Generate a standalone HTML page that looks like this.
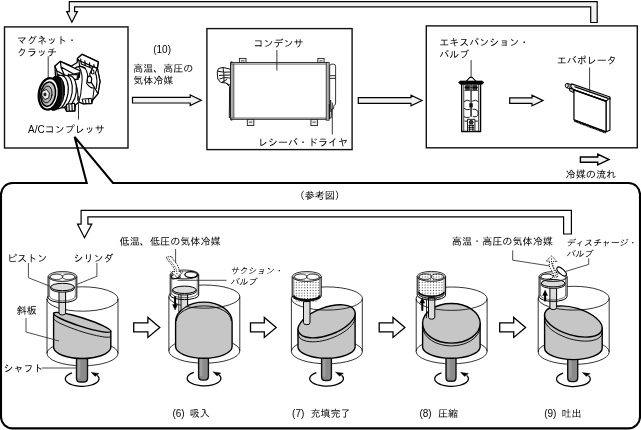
<!DOCTYPE html>
<html lang="ja"><head><meta charset="utf-8"><title>A/C refrigerant cycle</title>
<style>html,body{margin:0;padding:0;background:#fff}svg{display:block;filter:grayscale(1)}text{font-family:"Liberation Sans", "IPAGothic", "Noto Sans CJK JP", sans-serif}</style>
</head><body>
<svg width="641" height="430" viewBox="0 0 641 430">
<defs><pattern id="dots" x="0.9" y="0.2" width="2.8" height="2.7" patternUnits="userSpaceOnUse"><rect x="0.9" y="0.9" width="1" height="1" fill="#3a3a3a"/></pattern></defs>
<rect x="0" y="0" width="641" height="430" fill="#fff"/>
<polygon points="590.7,22.5 597.2,22.5 597.2,1.6 69.3,1.6 69.3,11.6 66.7,11.6 71.9,22.2 77.4,11.6 74.6,11.6 74.6,6.8 590.7,6.8" fill="#f0f2f2" stroke="#000" stroke-width="1.2" stroke-linejoin="miter"/>
<path d="M86.7,183.0 L74.6,136.8 L113,183.0 L628.5,183.0 A11.5,11.5 0 0 1 640.0,194.5 L640.0,416.9 A11.5,11.5 0 0 1 628.5,428.4 L12.5,428.4 A11.5,11.5 0 0 1 1.0,416.9 L1.0,194.5 A11.5,11.5 0 0 1 12.5,183.0 Z" fill="#fff" stroke="#000" stroke-width="2.1" stroke-linejoin="miter"/>
<rect x="4.5" y="26.9" width="123.5" height="121.1" fill="none" stroke="#111" stroke-width="1.4"/>
<rect x="206.9" y="28.6" width="145.2" height="121.0" fill="none" stroke="#111" stroke-width="1.4"/>
<rect x="426.3" y="25.9" width="211.0" height="121.9" fill="none" stroke="#111" stroke-width="1.4"/>
<polygon points="132.5,97.4 190.2,97.4 190.2,94.9 201.2,100.2 190.2,105.5 190.2,103.0 132.5,103.0" fill="#f0f2f2" stroke="#000" stroke-width="1.2" stroke-linejoin="miter"/>
<polygon points="358.3,97.7 411.0,97.7 411.0,95.2 422.0,100.5 411.0,105.8 411.0,103.3 358.3,103.3" fill="#f0f2f2" stroke="#000" stroke-width="1.2" stroke-linejoin="miter"/>
<polygon points="509.7,97.8 532.0,97.8 532.0,95.3 543.0,100.6 532.0,105.9 532.0,103.4 509.7,103.4" fill="#f0f2f2" stroke="#000" stroke-width="1.2" stroke-linejoin="miter"/>
<polygon points="580.4,157.0 597.7,157.0 597.7,154.2 609.0,159.6 597.7,165.0 597.7,162.2 580.4,162.2" fill="#f0f2f2" stroke="#000" stroke-width="1.4" stroke-linejoin="miter"/>
<polygon points="563.6,234.0 571.4,234.0 571.4,210.3 81.1,210.3 81.1,224.1 77.5,224.1 84.5,237.7 91.8,224.1 87.9,224.1 87.9,216.8 563.6,216.8" fill="#fff" stroke="#000" stroke-width="1.2" stroke-linejoin="miter"/>
<g id="compressor" transform="translate(35,52) scale(0.1464)" stroke="#000" fill="#fff" stroke-width="8" stroke-linejoin="round" stroke-linecap="round">
<path d="M136,98 L172,64 L250,96 L288,72 L290,45 L322,16 L432,68 L426,112 L444,200 L430,285 L394,328 L388,352 L330,354 L300,342 L276,362 L272,404 L215,404 L200,374 L150,340 L140,160 Z" fill="#fff" stroke-width="9"/>
<path d="M262,118 Q300,84 340,108 Q372,150 352,214 M300,100 Q332,150 318,230 Q316,290 300,340 M352,214 Q380,250 404,246 M404,246 L394,328 M262,190 Q300,240 292,330" fill="none" stroke-width="7"/>
<path d="M290,45 L322,16 L432,68 L426,112 L396,100 L300,58 Z" fill="#fff" stroke-width="9"/>
<path d="M312,48 L316,82 M340,60 L344,94 M372,74 L376,106 M402,86 L405,114 M300,58 L304,94 L342,112 M316,82 L405,118" fill="none" stroke-width="8"/>
<path d="M136,98 L172,64 L308,128 L302,174 L264,190 L150,130 Z" fill="#fff" stroke-width="9"/>
<path d="M150,130 L152,166 M174,68 L178,102 L264,150 L302,142 M228,150 L230,190 L294,188 L298,150 M178,106 L204,166 M152,150 L214,186" fill="none" stroke-width="8"/>
<path d="M232,156 L290,154 L288,184 L234,186 Z" fill="#fff" stroke-width="7"/>
<path d="M396,100 L426,112 L444,200 L430,285 L406,242 L382,204 L374,150 Z" fill="#fff" stroke-width="8"/>
<ellipse cx="372" cy="188" rx="15" ry="23" fill="#fff" stroke-width="8"/>
<ellipse cx="394" cy="136" rx="9" ry="15" fill="#fff" stroke-width="7"/>
<path d="M416,150 Q430,200 418,250 M424,112 L410,150" fill="none" stroke-width="7"/>
<ellipse cx="222" cy="268" rx="60" ry="108" transform="rotate(8 222 268)" fill="#fff" stroke-width="8"/>
<ellipse cx="194" cy="270" rx="60" ry="112" transform="rotate(8 194 270)" fill="#fff" stroke-width="8"/>
<ellipse cx="164" cy="274" rx="62" ry="116" transform="rotate(8 164 274)" fill="#fff" stroke-width="8"/>
<path d="M215,358 L270,350 L272,400 L218,406 Z M232,356 L234,404 M252,353 L254,402" fill="#fff" stroke-width="8"/>
<path d="M322,322 L384,316 L388,350 L330,354 Z M345,322 L348,352 M366,320 L369,350" fill="#fff" stroke-width="7"/>
<ellipse cx="138" cy="282" rx="63" ry="118" transform="rotate(8 138 282)" fill="#0a0a0a" stroke-width="6"/>
<path d="M182,196 Q200,280 180,372" fill="none" stroke="#888" stroke-width="3"/>
<ellipse cx="94" cy="286" rx="68" ry="108" transform="rotate(8 94 286)" fill="#fff" stroke-width="15"/>
<ellipse cx="90" cy="288" rx="50" ry="84" transform="rotate(8 90 288)" fill="#c4c4c4" stroke-width="11"/>
<ellipse cx="82" cy="290" rx="34" ry="58" transform="rotate(8 82 290)" fill="#b0b0b0" stroke-width="6"/>
<path d="M50,268 L78,256 L98,280 L94,314 L66,324 L48,298 Z" fill="#eee" stroke-width="6"/>
<ellipse cx="68" cy="290" rx="10" ry="13" fill="#222" stroke="none"/>
</g>
<line x1="48.2" y1="56.3" x2="48.2" y2="78.0" stroke="#222" stroke-width="0.9"/>
<line x1="78.5" y1="96.0" x2="78.5" y2="119.6" stroke="#222" stroke-width="0.9"/>
<g id="condenser" stroke="#222" fill="#fff" stroke-width="0.9">
<rect x="239.4" y="58.4" width="6.6" height="4.3" fill="#eee" stroke="#222" stroke-width="0.9"/>
<rect x="241.0" y="60.0" width="3.4" height="1.6" fill="#888" stroke="none"/>
<rect x="317.8" y="58.4" width="6.3" height="4.3" fill="#eee" stroke="#222" stroke-width="0.9"/>
<rect x="319.40000000000003" y="60.0" width="3.1" height="1.6" fill="#888" stroke="none"/>
<rect x="247.3" y="119.2" width="6.5" height="6.3" fill="#eee" stroke="#222" stroke-width="0.9"/>
<rect x="248.9" y="121.4" width="3.3" height="1.6" fill="#888" stroke="none"/>
<rect x="310.9" y="119.2" width="6.5" height="6.4" fill="#eee" stroke="#222" stroke-width="0.9"/>
<rect x="312.5" y="121.4" width="3.3" height="1.6" fill="#888" stroke="none"/>
<rect x="230.6" y="62.7" width="97" height="56.5" fill="#fff" stroke="#222" stroke-width="1.2"/>
<rect x="231.2" y="63.3" width="2.7" height="55.3" fill="#a8a8a8" stroke="none"/>
<path d="M233.9,63.5 V118.5" stroke="#333" stroke-width="0.7"/>
<rect x="326.2" y="62.3" width="3.0" height="57.9" fill="#b4b4b4" stroke="#222" stroke-width="0.8"/>
<path d="M231,64.4 H326 M231,117.8 H326" stroke="#555" stroke-width="0.6"/>
<circle cx="231.6" cy="62.3" r="1.1" fill="#333" stroke="none"/>
<circle cx="231.6" cy="119.6" r="1.1" fill="#333" stroke="none"/>
<path d="M329.7,66.2 Q329.7,64.2 331.7,64.2 H333.6 Q335.6,64.2 335.6,66.2 V103 Q335.6,105.3 333.8,105.6 L333.6,109 L331.6,109 L331.2,118 L329.7,118 Z" fill="#fff" stroke="#222" stroke-width="0.9"/>
<rect x="329.7" y="75.6" width="5.9" height="3.0" fill="#ddd" stroke="#222" stroke-width="0.8"/>
<path d="M330.6,100 L331,112 M329.4,104 L329.4,119" stroke="#111" stroke-width="1.1" fill="none"/>
<path d="M230.2,69.2 L223,67.4 L218.4,68.6 L217.2,72 L217.8,79 L220.6,82.4 L226,83 L230.4,85.4 M218,71.2 L223.6,72.2 L230.2,72 M223,67.4 L223.6,72.2 M219,75.4 L230,75 M219.4,79 L224,77.6 L230,78 M221.4,82.6 L227,79.4 M223.8,72.4 L224,82.6 M226,83 L229.6,86.6 L229.3,118" fill="none" stroke="#111" stroke-width="1.0"/>
</g>
<line x1="276.9" y1="50.0" x2="276.9" y2="70.5" stroke="#222" stroke-width="0.9"/>
<line x1="332.3" y1="102.4" x2="332.3" y2="134.5" stroke="#222" stroke-width="0.9"/>
<g id="expvalve" transform="translate(452,72) scale(0.1488)" stroke="#000" fill="#fff" stroke-width="7" stroke-linejoin="round">
<rect x="65" y="80" width="127" height="320" fill="#fff" stroke-width="9"/>
<path d="M79,84 V396 M179,84 V396" fill="none" stroke-width="5"/>
<path d="M92,66 L120,36 L136,36 L164,66 Z" fill="#fff" stroke-width="7"/>
<path d="M44,70 L56,60 H202 L214,70 L204,82 H54 Z" fill="#000" stroke-width="4"/>
<path d="M90,90 H120 V118 H90 Z M138,90 H168 V118 H138 Z" fill="#222" stroke-width="4"/>
<path d="M84,104 H174 M84,124 H174" fill="none" stroke-width="5"/>
<path d="M128,84 V300" fill="none" stroke-width="9"/>
<path d="M122,84 V212 M135,84 V212" fill="none" stroke="#fff" stroke-width="2"/>
<rect x="118" y="212" width="20" height="24" fill="#111" stroke-width="3"/>
<path d="M80,200 Q100,180 122,196 M136,196 Q160,182 178,200 M80,244 Q100,262 120,250 M138,250 Q176,246 176,280 Q174,306 140,300 M80,300 Q100,312 118,304 M84,330 H112 M146,330 H174" fill="none" stroke-width="6"/>
<path d="M104,318 H154 V398 H104 Z" fill="#fff" stroke-width="6"/>
<circle cx="129" cy="338" r="13" fill="#333" stroke-width="5"/>
<path d="M110,360 H148 M110,372 H148 M110,384 H148 M118,352 V396 M140,352 V396" fill="none" stroke-width="6"/>
</g>
<line x1="471.1" y1="60.0" x2="471.1" y2="77.5" stroke="#222" stroke-width="0.9"/>
<g id="evap" transform="translate(560,78) scale(0.1395)" stroke="#000" fill="#fff" stroke-width="8" stroke-linejoin="round">
<path d="M52,38 L96,52 L92,82 L48,70 Z" fill="#fff" stroke-width="7"/>
<ellipse cx="49" cy="54" rx="11" ry="15" fill="#ddd" stroke-width="7"/>
<path d="M66,72 L98,82 L96,104 L70,92 Z" fill="#bbb" stroke-width="7"/>
<path d="M72,44 L70,74 M84,48 L82,78" fill="none" stroke-width="5"/>
<path d="M100,85 L76,62 L84,42 L358,136 L358,152 L330,166 Z" fill="#fff" stroke-width="8"/>
<path d="M104,62 L346,146" fill="none" stroke-width="11"/>
<path d="M92,52 L352,140" fill="none" stroke="#888" stroke-width="4"/>
<path d="M330,166 L358,142 L358,374 L330,386 Z" fill="#fff" stroke-width="8"/>
<path d="M100,85 L330,166 L330,386 L100,300 Z" fill="#fff" stroke-width="9"/>
<path d="M104,306 L328,390" fill="none" stroke="#000" stroke-width="17" stroke-dasharray="9 2"/>
<path d="M100,85 L330,166" fill="none" stroke-width="11"/>
</g>
<line x1="589.6" y1="67.4" x2="589.6" y2="92.5" stroke="#222" stroke-width="0.9"/>
<g font-family="&quot;Liberation Sans&quot;, &quot;IPAGothic&quot;, &quot;Noto Sans CJK JP&quot;, sans-serif" fill="#000">
<text x="17.0" y="44.3" font-size="10" text-anchor="start">マグネット・</text>
<text x="17.0" y="56.0" font-size="10" text-anchor="start">クラッチ</text>
<text x="28.0" y="132.6" font-size="10" text-anchor="start">A/Cコンプレッサ</text>
<text x="153.2" y="52.5" font-size="10" text-anchor="start">(10)</text>
<text x="133.3" y="72.2" font-size="10" text-anchor="start">高温、高圧の</text>
<text x="133.3" y="84.4" font-size="10" text-anchor="start">気体冷媒</text>
<text x="253.6" y="46.8" font-size="10" text-anchor="start">コンデンサ</text>
<text x="257.9" y="145.9" font-size="10" text-anchor="start">レシーバ・ドライヤ</text>
<text x="439.2" y="45.8" font-size="10" text-anchor="start">エキスパンション・</text>
<text x="439.2" y="57.8" font-size="10" text-anchor="start">バルブ</text>
<text x="556.8" y="64.0" font-size="10" text-anchor="start">エバポレータ</text>
<text x="565.6" y="177.6" font-size="10.15" text-anchor="start">冷媒の流れ</text>
<text x="319.7" y="199.1" font-size="10" text-anchor="middle">（参考図）</text>
<text x="119.6" y="244.9" font-size="10.12" text-anchor="start">低温、低圧の気体冷媒</text>
<text x="451.8" y="244.8" font-size="10.12" text-anchor="start">高温・高圧の気体冷媒</text>
<text x="7.2" y="261.8" font-size="10" text-anchor="start">ピストン</text>
<text x="73.6" y="261.8" font-size="10" text-anchor="start">シリンダ</text>
<text x="16.8" y="313.7" font-size="10" text-anchor="start">斜板</text>
<text x="3.5" y="371.9" font-size="10" text-anchor="start">シャフト</text>
<text transform="translate(230.2,274.4) skewX(-11)" x="0" y="0" font-size="8.8" text-anchor="start">サクション・</text>
<text transform="translate(230.2,285.0) skewX(-11)" x="0" y="0" font-size="8.8" text-anchor="start">バルブ</text>
<text transform="translate(566.2,245.6) skewX(-11)" x="0" y="0" font-size="8.8" text-anchor="start">ディスチャージ・</text>
<text transform="translate(566.2,256.5) skewX(-11)" x="0" y="0" font-size="8.8" text-anchor="start">バルブ</text>
<text x="172.4" y="416.5" font-size="10" text-anchor="start">(6)</text>
<text x="189.7" y="416.5" font-size="10" text-anchor="start">吸入</text>
<text x="292.1" y="416.5" font-size="10" text-anchor="start">(7)</text>
<text x="310.6" y="416.5" font-size="10" text-anchor="start">充填完了</text>
<text x="419.4" y="416.5" font-size="10" text-anchor="start">(8)</text>
<text x="438.1" y="416.5" font-size="10" text-anchor="start">圧縮</text>
<text x="544.2" y="416.5" font-size="10" text-anchor="start">(9)</text>
<text x="561.6" y="416.5" font-size="10" text-anchor="start">吐出</text>
</g>
<ellipse cx="82.5" cy="353.4" rx="35.5" ry="12.4" fill="#fff" stroke="#000" stroke-width="0.8"/>
<path d="M76.5,356.5 V378.2 Q76.5,382.0 80.3,382.0 H83.7 Q87.5,382.0 87.5,378.2 V356.5 Z" fill="#8a8a8a" stroke="#111" stroke-width="1.4"/>
<rect x="77.7" y="358.5" width="2.6" height="19.5" fill="#a0a0a0"/>
<path d="M72.0,372.8 A16.85,7.5 0 1 0 97.2,375.4" fill="none" stroke="#000" stroke-width="1.25"/>
<polygon points="90.9,372.2 99.1,373.4 95.2,376.4" fill="#000" stroke="#000" stroke-width="0.3" stroke-linejoin="miter"/>
<path d="M53.6,313.4 V347.9 A28.7,11.6 0 0 0 110.8,347.9 V331.2 Z" fill="#c6c6c6" stroke="#000" stroke-width="1.4"/>
<ellipse cx="82.2" cy="322.3" rx="30.0" ry="4.25" transform="rotate(17.6 82.2 322.3)" fill="#c6c6c6" stroke="#000" stroke-width="1.4"/>
<polyline points="110.8,336.2 110.6,336.7 109.8,337.0 108.6,337.2 107.0,337.2 104.9,337.1 102.4,336.7 99.6,336.2 96.5,335.6 93.2,334.8 89.6,333.9 85.9,332.9 82.2,331.8 78.5,330.6 74.8,329.3 71.2,328.0 67.9,326.7 64.8,325.4 62.0,324.2 59.5,323.0 57.4,321.8 55.8,320.8 54.6,319.9 53.8,319.1 53.6,318.4" fill="none" stroke="#000" stroke-width="0.9"/>
<ellipse cx="82.5" cy="299.0" rx="35.5" ry="12.2" fill="none" stroke="#000" stroke-width="0.8"/>
<line x1="47.0" y1="299.0" x2="47.0" y2="353.4" stroke="#000" stroke-width="0.8"/>
<line x1="118.0" y1="299.0" x2="118.0" y2="353.4" stroke="#000" stroke-width="0.8"/>
<path d="M48.1,276.5 V297.5 A14.35,5.0 0 0 0 76.8,297.5 V276.5 A14.35,5.0 0 0 0 48.1,276.5 Z" fill="#fff" stroke="none"/>
<path d="M59.0,289.0 V313.0 Q59.0,315.0 62.3,315.0 Q65.6,315.0 65.6,313.0 V289.0 Z" fill="#dcdcdc" stroke="#000" stroke-width="1.0"/>
<path d="M50.7,287.0 V288.5 A11.8,3.7 0 0 0 74.3,288.5 V287.0 Z" fill="#dcdcdc" stroke="#000" stroke-width="0.9"/>
<ellipse cx="62.5" cy="287.0" rx="11.8" ry="3.7" fill="#dcdcdc" stroke="#000" stroke-width="1.0"/>
<line x1="48.1" y1="276.5" x2="48.1" y2="297.5" stroke="#000" stroke-width="1.0"/>
<line x1="76.8" y1="276.5" x2="76.8" y2="297.5" stroke="#000" stroke-width="1.0"/>
<line x1="49.6" y1="276.5" x2="49.6" y2="297.0" stroke="#222" stroke-width="0.6"/>
<line x1="75.3" y1="276.5" x2="75.3" y2="297.0" stroke="#222" stroke-width="0.6"/>
<path d="M48.1,297.5 A14.35,5.0 0 0 0 76.8,297.5" fill="none" stroke="#000" stroke-width="1.0"/>
<path d="M49.6,296.3 A12.8,4.6 0 0 0 75.3,296.3" fill="none" stroke="#222" stroke-width="0.6"/>
<ellipse cx="62.5" cy="276.5" rx="14.3" ry="5.0" fill="none" stroke="#111" stroke-width="0.85"/>
<ellipse cx="62.5" cy="277.0" rx="12.8" ry="4.1" fill="none" stroke="#444" stroke-width="0.5"/>
<ellipse cx="56.5" cy="276.8" rx="6.4" ry="2.7" fill="none" stroke="#111" stroke-width="0.75"/>
<ellipse cx="68.5" cy="276.8" rx="6.4" ry="2.7" fill="none" stroke="#111" stroke-width="0.75"/>
<ellipse cx="204.3" cy="350.8" rx="35.5" ry="12.4" fill="#fff" stroke="#000" stroke-width="0.8"/>
<path d="M198.6,355.2 V376.3 Q198.6,380.1 202.4,380.1 H204.6 Q208.4,380.1 208.4,376.3 V355.2 Z" fill="#8a8a8a" stroke="#111" stroke-width="1.4"/>
<rect x="199.8" y="357.2" width="2.6" height="18.9" fill="#a0a0a0"/>
<path d="M193.8,372.4 A16.85,7.5 0 1 0 219.1,375.0" fill="none" stroke="#000" stroke-width="1.25"/>
<polygon points="212.8,371.8 221.0,373.0 217.1,376.0" fill="#000" stroke="#000" stroke-width="0.3" stroke-linejoin="miter"/>
<path d="M175.6,346.6 V322.1 A28.2,20 0 0 1 232.1,322.1 V346.6 A28.2,11.6 0 0 1 175.6,346.6 Z" fill="#c6c6c6" stroke="#000" stroke-width="1.4"/>
<path d="M176.4,321.1 A27.4,15.2 0 0 1 231.3,321.1" fill="none" stroke="#000" stroke-width="0.9"/>
<ellipse cx="204.3" cy="296.6" rx="35.5" ry="11.6" fill="none" stroke="#000" stroke-width="0.8"/>
<line x1="168.9" y1="296.6" x2="168.9" y2="350.8" stroke="#000" stroke-width="0.8"/>
<line x1="239.8" y1="296.6" x2="239.8" y2="350.8" stroke="#000" stroke-width="0.8"/>
<path d="M170.2,274.5 V295.1 A14.25,4.5 0 0 0 198.7,295.1 V274.5 A14.25,4.5 0 0 0 170.2,274.5 Z" fill="#fff" stroke="none"/>
<path d="M181.0,309.7 V291.8 H187.6 V305.1" fill="#dcdcdc" stroke="#000" stroke-width="1.0"/>
<line x1="178.8" y1="293.8" x2="178.8" y2="312.3" stroke="#000" stroke-width="0.8"/>
<path d="M172.6,289.8 V291.3 A11.8,3.7 0 0 0 196.2,291.3 V289.8 Z" fill="#dcdcdc" stroke="#000" stroke-width="0.9"/>
<ellipse cx="184.4" cy="289.8" rx="11.8" ry="3.7" fill="#dcdcdc" stroke="#000" stroke-width="1.0"/>
<line x1="170.2" y1="274.5" x2="170.2" y2="295.1" stroke="#000" stroke-width="1.0"/>
<line x1="198.7" y1="274.5" x2="198.7" y2="295.1" stroke="#000" stroke-width="1.0"/>
<line x1="171.7" y1="274.5" x2="171.7" y2="294.6" stroke="#222" stroke-width="0.6"/>
<line x1="197.2" y1="274.5" x2="197.2" y2="294.6" stroke="#222" stroke-width="0.6"/>
<path d="M170.2,295.1 A14.25,4.5 0 0 0 198.7,295.1" fill="none" stroke="#000" stroke-width="1.0"/>
<path d="M171.7,293.9 A12.8,4.1 0 0 0 197.2,293.9" fill="none" stroke="#222" stroke-width="0.6"/>
<ellipse cx="184.4" cy="274.5" rx="14.2" ry="4.5" fill="none" stroke="#111" stroke-width="0.85"/>
<ellipse cx="184.4" cy="275.0" rx="12.8" ry="3.6" fill="none" stroke="#444" stroke-width="0.5"/>
<ellipse cx="326.9" cy="351.4" rx="35.5" ry="12.4" fill="#fff" stroke="#000" stroke-width="0.8"/>
<path d="M321.6,356.0 V376.7 Q321.6,380.5 325.4,380.5 H327.6 Q331.4,380.5 331.4,376.7 V356.0 Z" fill="#8a8a8a" stroke="#111" stroke-width="1.4"/>
<rect x="322.8" y="358.0" width="2.6" height="18.5" fill="#a0a0a0"/>
<path d="M316.4,372.6 A16.85,7.5 0 1 0 341.6,375.2" fill="none" stroke="#000" stroke-width="1.25"/>
<polygon points="335.3,372.0 343.5,373.2 339.6,376.2" fill="#000" stroke="#000" stroke-width="0.3" stroke-linejoin="miter"/>
<path d="M298.0,329.3 V347.4 A28.6,11.6 0 0 0 355.1,347.4 V313.3 Z" fill="#c6c6c6" stroke="#000" stroke-width="1.4"/>
<ellipse cx="326.6" cy="321.3" rx="30.0" ry="13.8" transform="rotate(-20.0 326.6 321.3)" fill="#c6c6c6" stroke="#000" stroke-width="1.4"/>
<polyline points="355.1,317.3 354.9,319.3 354.2,321.3 353.0,323.5 351.3,325.6 349.2,327.8 346.8,329.9 344.0,331.9 340.8,333.9 337.5,335.6 333.9,337.2 330.3,338.6 326.6,339.8 322.8,340.7 319.2,341.4 315.6,341.7 312.3,341.8 309.1,341.6 306.3,341.2 303.9,340.4 301.8,339.5 300.1,338.2 298.9,336.8 298.2,335.1 298.0,333.3" fill="none" stroke="#000" stroke-width="0.9"/>
<ellipse cx="326.9" cy="298.5" rx="35.5" ry="11.6" fill="none" stroke="#000" stroke-width="0.8"/>
<line x1="291.4" y1="298.5" x2="291.4" y2="351.4" stroke="#000" stroke-width="0.8"/>
<line x1="362.3" y1="298.5" x2="362.3" y2="351.4" stroke="#000" stroke-width="0.8"/>
<path d="M292.2,276.5 V296.0 A14.5,5.0 0 0 0 321.2,296.0 V276.5 A14.5,5.0 0 0 0 292.2,276.5 Z" fill="#fff" stroke="none"/>
<path d="M293.9,276.5 V299.6 A12.9,4.2 0 0 0 319.6,299.6 V276.5 A12.9,4.2 0 0 1 293.9,276.5 Z" fill="url(#dots)" stroke="none"/>
<path d="M303.5,301.6 V322.7 Q303.5,324.7 306.8,324.7 Q310.0,324.7 310.0,322.7 V301.6 Z" fill="#dcdcdc" stroke="#000" stroke-width="1.0"/>
<path d="M293.8,295.6 A13.0,4.4 0 0 0 319.8,295.6" fill="none" stroke="#000" stroke-width="1.8"/>
<line x1="292.2" y1="276.5" x2="292.2" y2="296.0" stroke="#000" stroke-width="1.0"/>
<line x1="321.2" y1="276.5" x2="321.2" y2="296.0" stroke="#000" stroke-width="1.0"/>
<line x1="293.8" y1="276.5" x2="293.8" y2="295.5" stroke="#222" stroke-width="0.6"/>
<line x1="319.8" y1="276.5" x2="319.8" y2="295.5" stroke="#222" stroke-width="0.6"/>
<path d="M292.2,296.0 A14.5,5.0 0 0 0 321.2,296.0" fill="none" stroke="#000" stroke-width="1.0"/>
<path d="M293.8,294.8 A13.0,4.6 0 0 0 319.8,294.8" fill="none" stroke="#222" stroke-width="0.6"/>
<ellipse cx="306.8" cy="276.5" rx="14.5" ry="5.0" fill="none" stroke="#111" stroke-width="0.85"/>
<ellipse cx="306.8" cy="277.0" rx="13.0" ry="4.1" fill="none" stroke="#444" stroke-width="0.5"/>
<ellipse cx="300.8" cy="276.8" rx="6.4" ry="2.7" fill="none" stroke="#111" stroke-width="0.75"/>
<ellipse cx="312.8" cy="276.8" rx="6.4" ry="2.7" fill="none" stroke="#111" stroke-width="0.75"/>
<ellipse cx="451.6" cy="351.4" rx="35.5" ry="12.4" fill="#fff" stroke="#000" stroke-width="0.8"/>
<path d="M446.0,356.0 V377.4 Q446.0,381.2 449.8,381.2 H452.2 Q456.0,381.2 456.0,377.4 V356.0 Z" fill="#8a8a8a" stroke="#111" stroke-width="1.4"/>
<rect x="447.2" y="358.0" width="2.6" height="19.2" fill="#a0a0a0"/>
<path d="M441.4,372.8 A16.85,7.5 0 1 0 466.6,375.4" fill="none" stroke="#000" stroke-width="1.25"/>
<polygon points="460.3,372.2 468.5,373.4 464.6,376.4" fill="#000" stroke="#000" stroke-width="0.3" stroke-linejoin="miter"/>
<path d="M422.6,323.3 V347.4 A28.8,11.6 0 0 0 480.1,347.4 V323.3 Z" fill="#c6c6c6" stroke="#000" stroke-width="1.4"/>
<ellipse cx="451.4" cy="323.3" rx="28.8" ry="19.8" fill="#c6c6c6" stroke="#000" stroke-width="1.4"/>
<path d="M422.6,327.3 A28.8,19.8 0 0 0 480.1,327.3" fill="none" stroke="#000" stroke-width="0.9"/>
<ellipse cx="451.6" cy="298.7" rx="35.5" ry="11.7" fill="none" stroke="#000" stroke-width="0.8"/>
<line x1="416.2" y1="298.7" x2="416.2" y2="351.4" stroke="#000" stroke-width="0.8"/>
<line x1="487.1" y1="298.7" x2="487.1" y2="351.4" stroke="#000" stroke-width="0.8"/>
<path d="M417.2,276.4 V295.1 A14.2,5.0 0 0 0 445.6,295.1 V276.4 A14.2,5.0 0 0 0 417.2,276.4 Z" fill="#fff" stroke="none"/>
<path d="M418.8,276.4 V295.4 A12.6,4.2 0 0 0 444.0,295.4 V276.4 A12.6,4.2 0 0 0 418.8,276.4 Z" fill="url(#dots)" stroke="none"/>
<path d="M428.5,297.4 V317.2 Q428.5,319.2 431.6,319.2 Q434.8,319.2 434.8,317.2 V297.4 Z" fill="#dcdcdc" stroke="#000" stroke-width="1.0"/>
<line x1="426.5" y1="299.4" x2="426.5" y2="318.2" stroke="#000" stroke-width="0.8"/>
<path d="M418.7,291.8 A12.7,4.4 0 0 0 444.1,291.8" fill="none" stroke="#000" stroke-width="1.6"/>
<path d="M418.7,293.8 A12.7,4.4 0 0 0 444.1,293.8" fill="none" stroke="#000" stroke-width="0.8"/>
<line x1="417.2" y1="276.4" x2="417.2" y2="295.1" stroke="#000" stroke-width="1.0"/>
<line x1="445.6" y1="276.4" x2="445.6" y2="295.1" stroke="#000" stroke-width="1.0"/>
<line x1="418.7" y1="276.4" x2="418.7" y2="294.6" stroke="#222" stroke-width="0.6"/>
<line x1="444.1" y1="276.4" x2="444.1" y2="294.6" stroke="#222" stroke-width="0.6"/>
<path d="M417.2,295.1 A14.2,5.0 0 0 0 445.6,295.1" fill="none" stroke="#000" stroke-width="1.0"/>
<path d="M418.7,293.9 A12.7,4.6 0 0 0 444.1,293.9" fill="none" stroke="#222" stroke-width="0.6"/>
<ellipse cx="431.4" cy="276.4" rx="14.2" ry="5.0" fill="none" stroke="#111" stroke-width="0.85"/>
<ellipse cx="431.4" cy="276.9" rx="12.7" ry="4.1" fill="none" stroke="#444" stroke-width="0.5"/>
<ellipse cx="425.4" cy="276.7" rx="6.4" ry="2.7" fill="none" stroke="#111" stroke-width="0.75"/>
<ellipse cx="437.4" cy="276.7" rx="6.4" ry="2.7" fill="none" stroke="#111" stroke-width="0.75"/>
<ellipse cx="573.7" cy="352.0" rx="35.5" ry="12.4" fill="#fff" stroke="#000" stroke-width="0.8"/>
<path d="M567.7,356.6 V377.8 Q567.7,381.6 571.5,381.6 H573.9 Q577.7,381.6 577.7,377.8 V356.6 Z" fill="#8a8a8a" stroke="#111" stroke-width="1.4"/>
<rect x="568.9" y="358.6" width="2.6" height="19.0" fill="#a0a0a0"/>
<path d="M563.1,373.1 A16.85,7.5 0 1 0 588.4,375.6" fill="none" stroke="#000" stroke-width="1.25"/>
<polygon points="582.1,372.4 590.3,373.6 586.4,376.6" fill="#000" stroke="#000" stroke-width="0.3" stroke-linejoin="miter"/>
<path d="M544.6,314.9 V348.0 A28.8,11.6 0 0 0 602.2,348.0 V328.1 Z" fill="#c6c6c6" stroke="#000" stroke-width="1.4"/>
<ellipse cx="573.4" cy="321.5" rx="29.8" ry="13.7" transform="rotate(16.5 573.4 321.5)" fill="#c6c6c6" stroke="#000" stroke-width="1.4"/>
<polyline points="602.2,332.1 602.0,333.9 601.3,335.6 600.0,337.0 598.4,338.3 596.3,339.4 593.8,340.2 591.0,340.8 587.8,341.1 584.4,341.1 580.9,340.9 577.2,340.4 573.4,339.7 569.6,338.7 565.9,337.5 562.4,336.0 559.0,334.5 555.8,332.7 553.0,330.8 550.5,328.9 548.4,326.9 546.8,324.8 545.5,322.8 544.8,320.8 544.6,318.9" fill="none" stroke="#000" stroke-width="0.9"/>
<ellipse cx="573.7" cy="298.2" rx="35.5" ry="11.9" fill="none" stroke="#000" stroke-width="0.8"/>
<line x1="538.2" y1="298.2" x2="538.2" y2="352.0" stroke="#000" stroke-width="0.8"/>
<line x1="609.2" y1="298.2" x2="609.2" y2="352.0" stroke="#000" stroke-width="0.8"/>
<path d="M539.1,276.6 V296.4 A14.0,5.0 0 0 0 567.1,296.4 V276.6 A14.0,5.0 0 0 0 539.1,276.6 Z" fill="#fff" stroke="none"/>
<path d="M549.9,285.2 V307.6 Q549.9,309.6 553.2,309.6 Q556.6,309.6 556.6,307.6 V285.2 Z" fill="#dcdcdc" stroke="#000" stroke-width="1.0"/>
<path d="M541.3,283.2 V284.7 A11.8,3.7 0 0 0 564.9,284.7 V283.2 Z" fill="#dcdcdc" stroke="#000" stroke-width="0.9"/>
<ellipse cx="553.1" cy="283.2" rx="11.8" ry="3.7" fill="#dcdcdc" stroke="#000" stroke-width="1.0"/>
<line x1="539.1" y1="276.6" x2="539.1" y2="296.4" stroke="#000" stroke-width="1.0"/>
<line x1="567.1" y1="276.6" x2="567.1" y2="296.4" stroke="#000" stroke-width="1.0"/>
<line x1="540.6" y1="276.6" x2="540.6" y2="295.9" stroke="#222" stroke-width="0.6"/>
<line x1="565.6" y1="276.6" x2="565.6" y2="295.9" stroke="#222" stroke-width="0.6"/>
<path d="M539.1,296.4 A14.0,5.0 0 0 0 567.1,296.4" fill="none" stroke="#000" stroke-width="1.0"/>
<path d="M540.6,295.2 A12.5,4.6 0 0 0 565.6,295.2" fill="none" stroke="#222" stroke-width="0.6"/>
<ellipse cx="553.1" cy="276.6" rx="14.0" ry="5.0" fill="none" stroke="#111" stroke-width="0.85"/>
<ellipse cx="553.1" cy="277.1" rx="12.5" ry="4.1" fill="none" stroke="#444" stroke-width="0.5"/>
<line x1="175.1" y1="296.2" x2="175.1" y2="306.1" stroke="#000" stroke-width="2.0"/>
<polygon points="172.6,304.5 177.6,304.5 175.1,310.0" fill="#000" stroke="#000" stroke-width="0.4" stroke-linejoin="miter"/>
<line x1="422.3" y1="310.8" x2="422.3" y2="301.5" stroke="#000" stroke-width="2.0"/>
<polygon points="419.8,303.1 424.8,303.1 422.3,297.6" fill="#000" stroke="#000" stroke-width="0.4" stroke-linejoin="miter"/>
<line x1="545.1" y1="301.4" x2="545.1" y2="294.0" stroke="#000" stroke-width="2.0"/>
<polygon points="542.6,295.6 547.6,295.6 545.1,290.1" fill="#000" stroke="#000" stroke-width="0.4" stroke-linejoin="miter"/>
<ellipse cx="191.2" cy="274.6" rx="6.3" ry="3.0" fill="none" stroke="#000" stroke-width="1.3"/>
<ellipse cx="175.8" cy="276.2" rx="4.6" ry="2.2" transform="rotate(-20 175.8 276.2)" fill="#fff" stroke="#000" stroke-width="1"/>
<path d="M171.2,274.5 Q175,271.5 181.5,273.5 M172,277.8 Q176,280 181,277.5" fill="none" stroke="#000" stroke-width="0.8"/>
<path d="M166.3,257.2 L171.6,256.3 C173.5,262 179.4,264 179.2,272 L182.6,272 L177,277.4 L170.8,271.8 L174.6,271.8 C174.6,266 169.6,264 166.3,257.2 Z" fill="#fff" stroke="#000" stroke-width="1" stroke-dasharray="1 1"/>
<path d="M169,258.8 C171.5,263.5 176.8,265.5 177,274.5" fill="none" stroke="#000" stroke-width="1" stroke-dasharray="1 1.4"/>
<path d="M557.4,277 C557.2,271.5 554.6,269.5 553.2,266.5 C552.4,264.5 552.8,263 553.4,261.4 L557.0,261.6 L551.6,255.9 L546.2,261 L549.8,261.2 C549,263.5 549,266 550.4,268.6 C552,271.5 553.6,273 553.6,277 Z" fill="#fff" stroke="#000" stroke-width="1" stroke-dasharray="1 1"/>
<path d="M551.6,258.5 C550.6,266 555.6,270 555.4,277" fill="none" stroke="#000" stroke-width="1" stroke-dasharray="1 1.4"/>
<ellipse cx="561.6" cy="271.5" rx="5.9" ry="2.6" transform="rotate(42 561.6 271.5)" fill="#fff" stroke="#000" stroke-width="1.1"/>
<ellipse cx="547.0" cy="276.6" rx="6.2" ry="2.6" fill="none" stroke="#000" stroke-width="0.9"/>
<polygon points="133.7,322.9 147.9,322.9 147.9,317.4 159.8,327.4 147.9,337.4 147.9,331.9 133.7,331.9" fill="#fff" stroke="#000" stroke-width="1.3" stroke-linejoin="miter"/>
<polygon points="250.5,322.9 264.3,322.9 264.3,317.4 276.2,327.4 264.3,337.4 264.3,331.9 250.5,331.9" fill="#fff" stroke="#000" stroke-width="1.3" stroke-linejoin="miter"/>
<polygon points="379.2,322.9 393.0,322.9 393.0,317.4 404.9,327.4 393.0,337.4 393.0,331.9 379.2,331.9" fill="#fff" stroke="#000" stroke-width="1.3" stroke-linejoin="miter"/>
<polygon points="499.7,322.9 513.7,322.9 513.7,317.4 525.6,327.4 513.7,337.4 513.7,331.9 499.7,331.9" fill="#fff" stroke="#000" stroke-width="1.3" stroke-linejoin="miter"/>
<polyline points="28.4,263.0 28.4,277.7 50.5,286.5" fill="none" stroke="#222" stroke-width="0.8"/>
<polyline points="96.9,263.0 96.9,276.3 76.9,284.4" fill="none" stroke="#222" stroke-width="0.8"/>
<polyline points="26.0,318.0 26.0,332.0 59.0,341.0" fill="none" stroke="#222" stroke-width="0.8"/>
<line x1="42.0" y1="368.0" x2="77.0" y2="368.0" stroke="#222" stroke-width="0.8"/>
<line x1="175.6" y1="249.0" x2="175.6" y2="262.6" stroke="#222" stroke-width="0.8"/>
<line x1="226.5" y1="280.3" x2="177.5" y2="280.3" stroke="#222" stroke-width="0.8"/>
<polyline points="588.7,258.3 588.7,264.4 565.2,271.6" fill="none" stroke="#222" stroke-width="0.8"/>
<polyline points="512.7,250.3 512.7,260.2 549.5,265.9" fill="none" stroke="#222" stroke-width="0.8"/>
</svg>
</body></html>
